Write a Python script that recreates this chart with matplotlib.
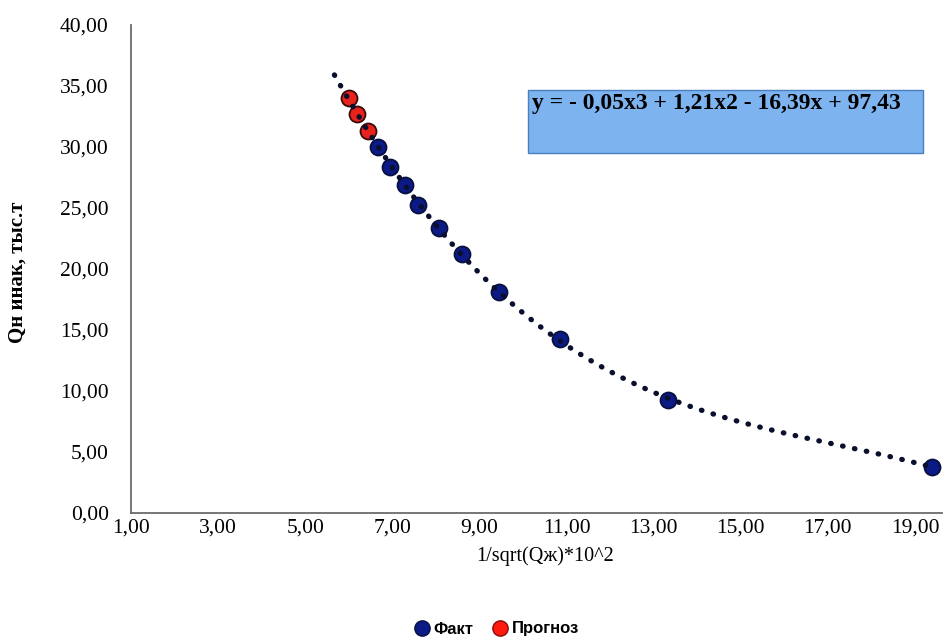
import numpy as np
import matplotlib
matplotlib.use("Agg")
import matplotlib.pyplot as plt
from matplotlib.lines import Line2D

# Data
fact_x = [6.68, 6.95, 7.28, 7.60, 8.06, 8.61, 9.44, 10.84, 13.34, 19.39]
fact_y = [30.0, 28.4, 26.9, 25.25, 23.4, 21.2, 18.1, 14.3, 9.3, 3.77]
fc_x = [6.01, 6.20, 6.43]
fc_y = [34.0, 32.7, 31.3]
trend_range = [5.67, 19.3]
x_ticks = [1, 3, 5, 7, 9, 11, 13, 15, 17, 19]
y_ticks = [0, 5, 10, 15, 20, 25, 30, 35, 40]
equation = "y = - 0,05x3 + 1,21x2 - 16,39x + 97,43"

serif = ["Liberation Serif", "DejaVu Serif"]
sans = ["Liberation Sans", "DejaVu Sans"]

fig = plt.figure(figsize=(9.44, 6.39), dpi=100)
ax = fig.add_axes([131/944, 1-513/639, (942-131)/944, (513-25)/639])

# cubic trendline via library fit
coef = np.polyfit(fact_x + fc_x, fact_y + fc_y, 3)
xs = np.linspace(trend_range[0], trend_range[1], 300)
ax.plot(xs, np.polyval(coef, xs), linestyle=(0, (0.1, 2.2)), color="#0a0f2e",
        linewidth=3.8, dash_capstyle="round", zorder=4)

ax.plot(fact_x, fact_y, "o", markersize=11.5, markerfacecolor="#0c1a85",
        markeredgecolor="#07103f", markeredgewidth=1.3, zorder=3, linestyle="none",
        clip_on=False)
ax.plot(fc_x, fc_y, "o", markersize=11.5, markerfacecolor="#e8231c",
        markeredgecolor="#3a0a0a", markeredgewidth=1.3, zorder=3, linestyle="none")

ax.set_xlim(1, 19.62)
ax.set_ylim(0, 40)
ax.set_xticks(x_ticks)
ax.set_yticks(y_ticks)
ax.set_xticklabels([f"{v:.2f}".replace(".", ",") for v in x_ticks],
                   fontfamily=serif, fontsize=15.5)
ax.set_yticklabels([f"{v:.2f}".replace(".", ",") for v in y_ticks],
                   fontfamily=serif, fontsize=15.5)
ax.tick_params(axis="y", length=0, pad=16)
ax.tick_params(axis="x", length=0, pad=4)
for s in ["top", "right"]:
    ax.spines[s].set_visible(False)
for s in ["left", "bottom"]:
    ax.spines[s].set_color("#6b6b6b")
    ax.spines[s].set_linewidth(1.3)

ax.set_xlabel("1/sqrt(Qж)*10^2", fontfamily=serif, fontsize=14.5)
ax.xaxis.set_label_coords((545-131)/(942-131), -(546-513)/(513-25))
ax.set_ylabel("Qн инак, тыс.т", fontfamily=serif, fontsize=15, fontweight="bold",
              va="center")
ax.yaxis.set_label_coords(-(131-18)/(942-131), (513-272)/(513-25))

# equation box
fig.patches.append(plt.Rectangle((528/944, 1-153/639), (923-528)/944, (153-90)/639,
                                 transform=fig.transFigure, facecolor="#7db4ef",
                                 edgecolor="#4a7fbf", linewidth=1.0, zorder=5))
fig.text(532/944, 1-104/639, equation, fontfamily=serif, fontsize=17,
         fontweight="bold", va="center", ha="left", zorder=6)

handles = [Line2D([], [], marker="o", linestyle="none", markersize=11,
                  markerfacecolor="#0c1a85", markeredgecolor="#07103f"),
           Line2D([], [], marker="o", linestyle="none", markersize=11,
                  markerfacecolor="#ff1a10", markeredgecolor="#8a0a0a")]
fig.legend(handles, ["Факт", "Прогноз"], loc="center", bbox_to_anchor=(492/944, 1-629/639),
           ncol=2, frameon=False, handletextpad=-0.3, columnspacing=0.6,
           prop={"family": sans, "size": 12, "weight": "bold"})

fig.savefig("out.png", dpi=100)
